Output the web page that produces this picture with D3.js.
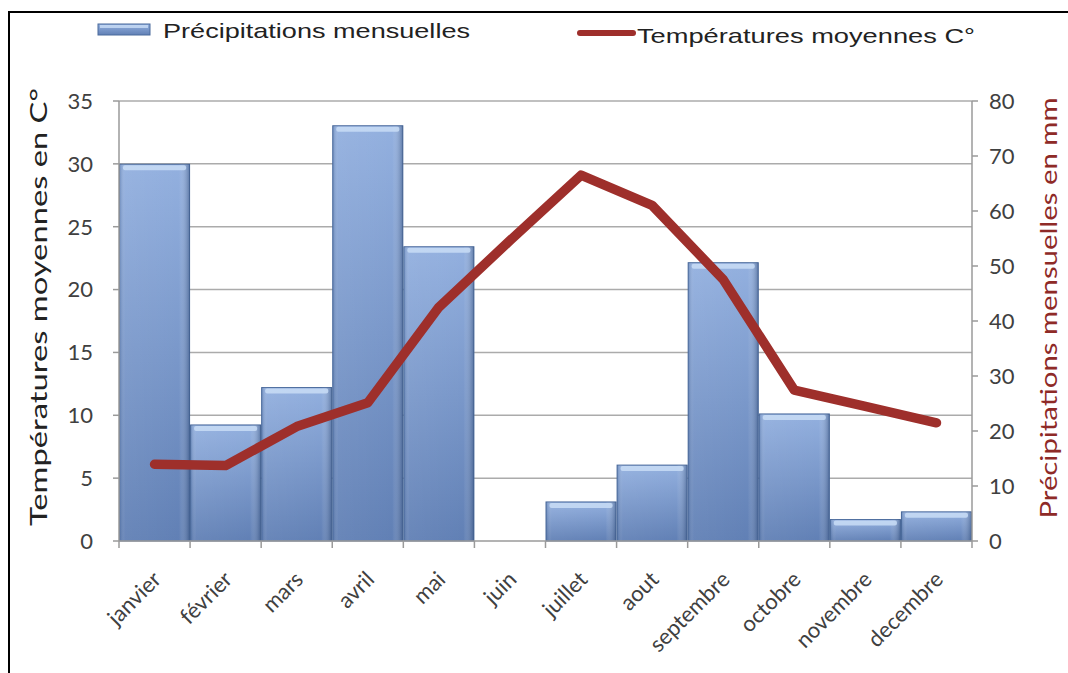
<!DOCTYPE html>
<html><head><meta charset="utf-8">
<script src="https://cdn.jsdelivr.net/npm/d3@7"></script>
<style>body{margin:0;background:#fff}svg{display:block}</style>
</head><body>
<svg id="c" width="1068" height="673"></svg>
<script>
const months = ["janvier","février","mars","avril","mai","juin","juillet","aout","septembre","octobre","novembre","decembre"];
const precipitation = [68.5,21.1,27.9,75.5,53.5,0,7.1,13.8,50.6,23.1,3.9,5.3];
const temperature = [6.1,6.0,9.1,11.0,18.6,23.9,29.1,26.7,20.8,12.0,10.7,9.4];
const leftTicks = [0,5,10,15,20,25,30,35];
const rightTicks = [0,10,20,30,40,50,60,70,80];

const svg = d3.select("#c");
const L=119, R=972, T=101, B=541;
const x = d3.scaleBand().domain(months).range([L,R]).padding(0);
const yT = d3.scaleLinear().domain([0,35]).range([B,T]);
const yP = d3.scaleLinear().domain([0,80]).range([B,T]);

const defs = svg.append("defs");
const g1 = defs.append("linearGradient").attr("id","barv").attr("x1",0).attr("y1",0).attr("x2",0).attr("y2",1);
g1.append("stop").attr("offset","0%").attr("stop-color","#93B0DF");
g1.append("stop").attr("offset","100%").attr("stop-color","#6180B5");
const g2 = defs.append("linearGradient").attr("id","barh").attr("x1",0).attr("y1",0).attr("x2",1).attr("y2",0);
g2.append("stop").attr("offset","0%").attr("stop-color","#2E4F82").attr("stop-opacity",0.35);
g2.append("stop").attr("offset","8%").attr("stop-color","#ffffff").attr("stop-opacity",0.05);
g2.append("stop").attr("offset","85%").attr("stop-color","#ffffff").attr("stop-opacity",0);
g2.append("stop").attr("offset","100%").attr("stop-color","#1F3A66").attr("stop-opacity",0.45);

// frame
svg.append("path").attr("d","M9,673 V12 H1068").attr("fill","none").attr("stroke","#000").attr("stroke-width",2);

// gridlines
svg.append("g").selectAll("line").data(leftTicks.slice(1)).join("line")
  .attr("x1",L).attr("x2",R).attr("y1",d=>yT(d)).attr("y2",d=>yT(d))
  .attr("stroke","#ABABAB").attr("stroke-width",1.5);

// bars
const bars = svg.append("g");
months.forEach((m,i)=>{
  const v = precipitation[i];
  if (v<=0) return;
  const bx = x(m), bw = x.bandwidth(), by = yP(v), bh = B-by;
  bars.append("rect").attr("x",bx+0.5).attr("y",by).attr("width",bw-1).attr("height",bh)
    .attr("fill","url(#barv)").attr("stroke","#4A6A9C").attr("stroke-width",1);
  bars.append("rect").attr("x",bx+0.5).attr("y",by).attr("width",bw-1).attr("height",bh).attr("fill","url(#barh)");
  bars.append("rect").attr("x",bx+4).attr("y",by+1).attr("width",bw-8).attr("height",Math.min(5,bh-1))
    .attr("fill","#C9DDF6").attr("opacity",0.85).attr("rx",2);
});

// axes lines
const axisCol="#9A9A9A";
svg.append("line").attr("x1",L).attr("x2",L).attr("y1",T).attr("y2",B).attr("stroke",axisCol).attr("stroke-width",1.5);
svg.append("line").attr("x1",R).attr("x2",R).attr("y1",T).attr("y2",B).attr("stroke",axisCol).attr("stroke-width",1.5);
svg.append("line").attr("x1",L).attr("x2",R).attr("y1",B).attr("y2",B).attr("stroke",axisCol).attr("stroke-width",1.5);

const fontTick = "Lato, 'Open Sans', sans-serif";
// left ticks
const lt = svg.append("g");
lt.selectAll("line").data(leftTicks).join("line").attr("x1",L-6).attr("x2",L).attr("y1",d=>yT(d)).attr("y2",d=>yT(d)).attr("stroke",axisCol).attr("stroke-width",1.5);
lt.selectAll("text").data(leftTicks).join("text").attr("x",93).attr("y",d=>yT(d)).attr("dy","0.36em")
  .attr("text-anchor","end").attr("font-family",fontTick).attr("font-size",22).attr("fill","#404040").text(d=>d);
// right ticks
const rt = svg.append("g");
rt.selectAll("line").data(rightTicks).join("line").attr("x1",R).attr("x2",R+6).attr("y1",d=>yP(d)).attr("y2",d=>yP(d)).attr("stroke",axisCol).attr("stroke-width",1.5);
rt.selectAll("text").data(rightTicks).join("text").attr("x",989).attr("y",d=>yP(d)).attr("dy","0.36em")
  .attr("text-anchor","start").attr("font-family",fontTick).attr("font-size",22).attr("fill","#404040").text(d=>d);
// bottom ticks at category boundaries
const bounds = months.map(m=>x(m)).concat([R]);
svg.append("g").selectAll("line").data(bounds).join("line").attr("x1",d=>d).attr("x2",d=>d).attr("y1",B).attr("y2",B+7).attr("stroke",axisCol).attr("stroke-width",1.5);
// x labels
svg.append("g").selectAll("text").data(months).join("text")
  .attr("transform",d=>`translate(${x(d)+x.bandwidth()/2-3},${B+29}) rotate(-45)`)
  .attr("text-anchor","end").attr("dy","0.7em").attr("font-family",fontTick).attr("font-size",22).attr("fill","#404040").text(d=>d);

// temperature line
const line = d3.line().x((d,i)=>x(months[i])+x.bandwidth()/2).y(d=>yT(d));
svg.append("path").datum(temperature).attr("d",line).attr("fill","none")
  .attr("stroke","#9E2F2B").attr("stroke-width",9.5).attr("stroke-linejoin","round").attr("stroke-linecap","round");

// axis titles
svg.append("text").attr("transform",`translate(47,307) rotate(-90)`).attr("text-anchor","middle")
  .attr("font-family",fontTick).attr("font-size",23).attr("fill","#222")
  .attr("textLength",438).attr("lengthAdjust","spacingAndGlyphs").text("Températures moyennes en C°");
svg.append("text").attr("transform",`translate(1057,308) rotate(-90)`).attr("text-anchor","middle")
  .attr("font-family",fontTick).attr("font-size",23).attr("fill","#8E2A27")
  .attr("textLength",421).attr("lengthAdjust","spacingAndGlyphs").text("Précipitations mensuelles en mm");

// legend
svg.append("rect").attr("x",98).attr("y",24).attr("width",52).attr("height",11).attr("fill","url(#barv)").attr("stroke","#4A6A9C");
svg.append("rect").attr("x",100).attr("y",25).attr("width",48).attr("height",3).attr("fill","#C9DDF6").attr("opacity",0.8);
svg.append("text").attr("x",163).attr("y",38).attr("font-family","'Liberation Sans', Arial, sans-serif").attr("font-size",21).attr("fill","#222")
  .attr("textLength",307).attr("lengthAdjust","spacingAndGlyphs").text("Précipitations mensuelles");
svg.append("line").attr("x1",580).attr("x2",633).attr("y1",33).attr("y2",33).attr("stroke","#9E2F2B").attr("stroke-width",6).attr("stroke-linecap","round");
svg.append("text").attr("x",637).attr("y",43).attr("font-family","'Liberation Sans', Arial, sans-serif").attr("font-size",21).attr("fill","#222")
  .attr("textLength",338).attr("lengthAdjust","spacingAndGlyphs").text("Températures moyennes C°");
</script>
</body></html>
